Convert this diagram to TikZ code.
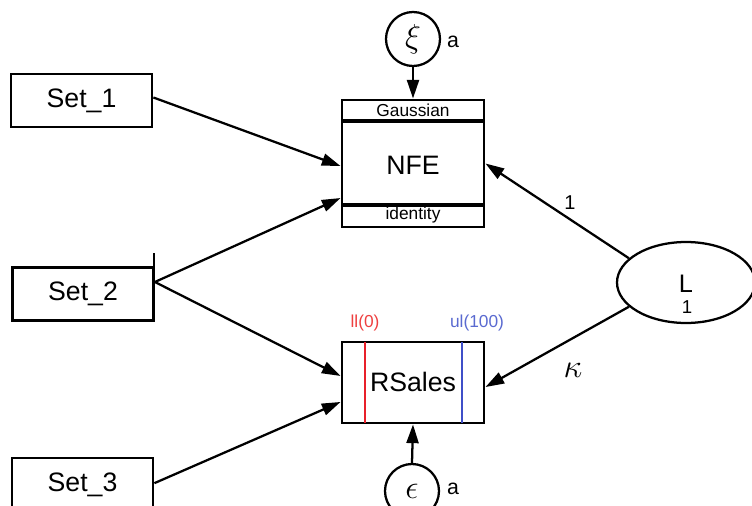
\documentclass[tikz,border=0pt]{standalone}
\usepackage{fontspec}
\setmainfont{Liberation Sans}
\usetikzlibrary{arrows.meta,shapes.geometric}
\definecolor{llred}{HTML}{E8202A}
\definecolor{ulblue}{HTML}{3F4FC8}
\definecolor{lltext}{HTML}{EE4040}
\definecolor{ultext}{HTML}{5A6AD0}
\tikzset{
  box/.style={draw,line width=2.1pt,minimum width=105.75pt,minimum height=39.75pt,inner sep=0pt,font=\fontsize{20}{22}\selectfont},
  trans/.style={draw,line width=2.2pt,minimum width=106.5pt,inner sep=0pt,font=\fontsize{20}{22}\selectfont},
  place/.style={draw,circle,line width=1.7pt,minimum size=40.5pt,inner sep=0pt},
  conn/.style={line width=1.7pt,-{Triangle[length=14pt,width=9pt]}},
  lab/.style={inner sep=0pt,font=\fontsize{16}{18}\selectfont},
}
\begin{document}
\begin{tikzpicture}[x=0.75pt,y=-0.75pt]
\useasboundingbox (0,0) rectangle (752,506);
% boxes
\node[box] (S1) at (81.5,100.5) {Set\_1};
\node[box] (S2) at (83,294) {Set\_2};
\node[box] (S3) at (82.5,484.5) {Set\_3};
\coordinate (tickA) at (154,253);
\coordinate (tickB) at (154,268);
\draw[line width=0.8pt] (tickA) -- (tickB);
% NFE transition
\node[trans,minimum height=95.25pt] (NFE) at (413,163.5) {};
\node[inner sep=0pt,font=\fontsize{20}{22}\selectfont] (NFEt) at (413,165) {NFE};
\coordinate (g1) at (342,121); \coordinate (g2) at (484,121);
\coordinate (i1) at (342,205); \coordinate (i2) at (484,205);
\draw[line width=3pt] (g1) -- (g2);
\draw[line width=3pt] (i1) -- (i2);
\node[inner sep=0pt,font=\fontsize{13}{14}\selectfont] (gauss) at (413,110.5) {Gaussian};
\node[inner sep=0pt,font=\fontsize{13}{14}\selectfont] (ident) at (413,215) {identity};
% RSales transition
\node[trans,minimum height=60.75pt] (RS) at (413,382.5) {};
\coordinate (r1) at (365,342); \coordinate (r2) at (365,423);
\coordinate (b1) at (462,342); \coordinate (b2) at (462,423);
\draw[llred,line width=2pt] (r1) -- (r2);
\draw[ulblue,line width=2pt] (b1) -- (b2);
\node[inner sep=0pt,font=\fontsize{20}{22}\selectfont] (RSt) at (413,382) {RSales};
\node[inner sep=0pt,text=lltext,font=\fontsize{13}{14}\selectfont] (ll) at (365,323) {ll(0)};
\node[inner sep=0pt,text=ultext,font=\fontsize{13}{14}\selectfont] (ul) at (477,323) {ul(100)};
% places
\node[place] (xi) at (413,39) {\fontsize{27}{29}\selectfont$\xi$};
\node[lab] (xia) at (453,42) {a};
\node[place] (eps) at (412,491) {\fontsize{30}{32}\selectfont$\epsilon$};
\node[lab] (epsa) at (453,489) {a};
\node[draw,ellipse,line width=1.7pt,minimum width=103.5pt,minimum height=60.75pt,inner sep=0pt] (L) at (686,282.5) {};
\node[inner sep=0pt,font=\fontsize{19}{21}\selectfont] (Lt) at (686,284) {L};
\node[inner sep=0pt,font=\fontsize{14}{16}\selectfont] (Lone) at (687,307) {1};
% connectors
\draw[conn] ([yshift=2.25pt]S1.east) -- ([yshift=-1.9pt]NFE.west);
\draw[conn] ([yshift=9pt]S2.east) -- ([yshift=-25.9pt]NFE.west);
\draw[conn] ([yshift=9pt]S2.east) -- ([yshift=4.9pt]RS.west);
\draw[conn] ([yshift=1pt]S3.east) -- ([yshift=-14.6pt]RS.west);
\draw[conn] (xi.south) -- (NFE.north);
\draw[conn] (eps.north) -- (RS.south);
\draw[conn] (L.157) -- (NFE.east);
\draw[conn] (L.203) -- ([yshift=-3.4pt]RS.east);
\node[inner sep=0pt,font=\fontsize{15}{17}\selectfont] (one) at (570,203) {1};
\node[inner sep=0pt] (kap) at (573,370) {\fontsize{28}{30}\selectfont$\kappa$};
\end{tikzpicture}
\end{document}
